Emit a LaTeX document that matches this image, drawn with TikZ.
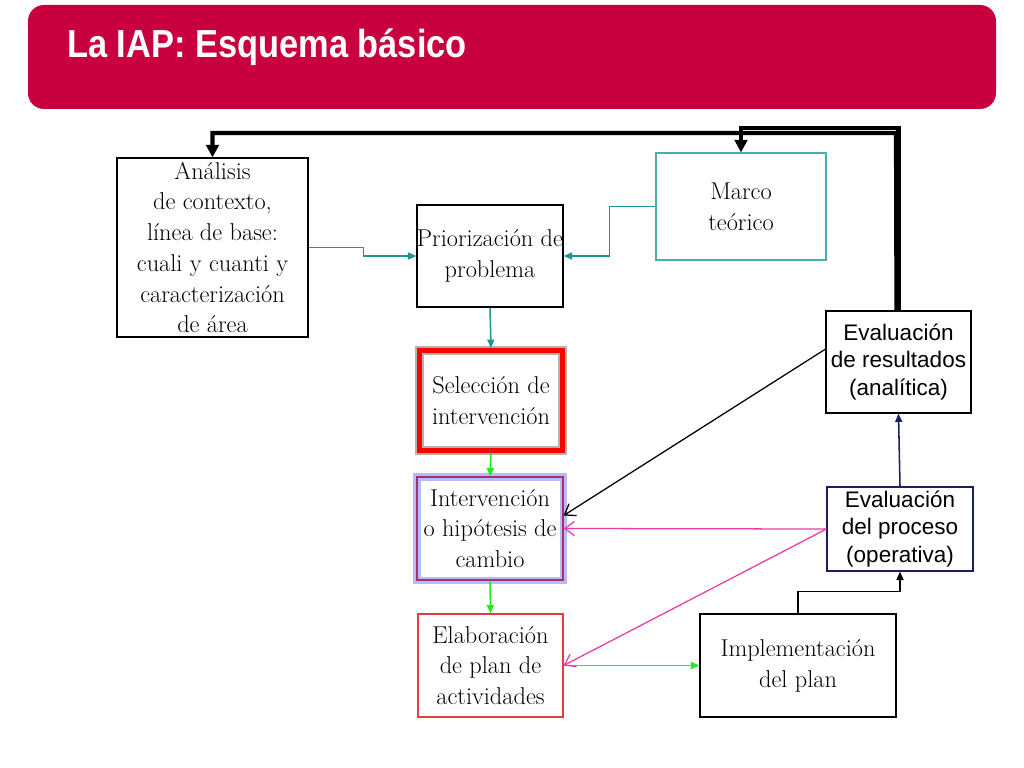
\documentclass[tikz,border=0pt]{standalone}
\usepackage{fontspec}
\newfontfamily\arialfont{Liberation Sans}
\newfontfamily\titlefont[FakeStretch=0.88]{Liberation Sans}
\usetikzlibrary{arrows.meta}
\definecolor{iapred}{RGB}{200,0,64}
\definecolor{iapteal}{RGB}{30,150,150}
\definecolor{iapframe}{RGB}{70,175,175}
\definecolor{iappink}{RGB}{235,60,160}
\definecolor{iapgreen}{RGB}{40,230,40}
\definecolor{iapnavy}{RGB}{30,30,100}
\definecolor{iapglow}{RGB}{185,185,250}
\begin{document}
\begin{tikzpicture}[x=0.025cm,y=-0.025cm,
  box/.style={draw,line width=0.8pt,inner sep=0pt,align=center,text=black,
    font=\fontsize{17.3}{21.9}\selectfont},
  sansbox/.style={box,font=\arialfont\fontsize{16}{19.6}\selectfont},
  tealarr/.style={draw=iapteal,line width=1.1pt,-{Triangle[length=6pt,width=5pt]}},
  greenarr/.style={draw=iapgreen,line width=1.1pt,-{Triangle[length=6pt,width=5pt]}},
  pinkarr/.style={draw=iappink,line width=0.9pt,-{Straight Barb[length=7pt,width=10pt]}},
  fbline/.style={line width=3pt,-{Triangle[length=9pt,width=9pt]}}]
\useasboundingbox (0,0) rectangle (1024,768);
\fill[iapred,rounded corners=0.4cm] (28,5) rectangle (996,109);
\node[anchor=base west,inner sep=0pt,text=white,font=\titlefont\bfseries\fontsize{27.8}{30}\selectfont] (title) at (67,58) {La IAP: Esquema básico};
\node[box,minimum width=4.775cm,minimum height=4.475cm] (analisis) at (212.5,247.5) {Análisis\\de contexto,\\línea de base:\\cuali y cuanti y\\caracterización\\de área};
\node[box,minimum width=3.65cm,minimum height=2.55cm] (prior) at (490,256) {Priorización de\\problema};
\node[box,draw=iapframe,minimum width=4.25cm,minimum height=2.675cm] (marco) at (741,206.5) {Marco\\teórico};
\node[box,draw=red,line width=3.5pt,preaction={draw=gray!60,line width=6.5pt},minimum width=3.575cm,minimum height=2.5cm] (selec) at (491,400.5) {Selección de\\intervención};
\node[box,draw={rgb,255:red,160;green,50;blue,110},preaction={draw=iapglow,line width=5pt},minimum width=3.65cm,minimum height=2.575cm] (interv) at (490,528.5) {Intervención\\o hipótesis de\\cambio};
\node[box,draw={rgb,255:red,230;green,60;blue,60},minimum width=3.625cm,minimum height=2.575cm] (elab) at (490.5,665.5) {Elaboración\\de plan de\\actividades};
\node[box,minimum width=4.9cm,minimum height=2.575cm] (impl) at (798,665.5) {Implementación\\del plan};
\node[sansbox,minimum width=3.625cm,minimum height=2.55cm] (evres) at (898.5,362) {Evaluación\\de resultados\\(analítica)};
\node[sansbox,draw=iapnavy,minimum width=3.65cm,minimum height=2.1cm] (evproc) at (900,529) {Evaluación\\del proceso\\(operativa)};
\draw[tealarr] (analisis.east) -- ++(55,0) |- (prior.west);
\draw[tealarr] (marco.west) -- ++(-46,0) |- (prior.east);
\draw[tealarr] (prior.south) -- (selec.north);
\draw[greenarr] (selec.south) -- (interv.north);
\draw[greenarr] (interv.south) -- (elab.north);
\draw[greenarr] (elab.east) -- (impl.west);
\draw[line width=1.1pt,-{Triangle[length=6pt,width=5pt]}] (impl.north) -- ++(0,-22) -| (evproc.south);
\draw[draw=iapnavy,line width=1.1pt,-{Triangle[length=6pt,width=5pt]}] (evproc.north) -- (evres.south);
\draw[line width=0.9pt,-{Straight Barb[length=7pt,width=10pt]}] (evres.170) -- (interv.10);
\draw[pinkarr] (evproc.west) -- (interv.east);
\draw[pinkarr] (evproc.west) -- (elab.east);
\draw[fbline] (evres.north) -- (898.5,128) -| (marco.north);
\draw[fbline] ([xshift=-0.05cm]evres.north) -- (896,133) -| (analisis.north);
\end{tikzpicture}
\end{document}
